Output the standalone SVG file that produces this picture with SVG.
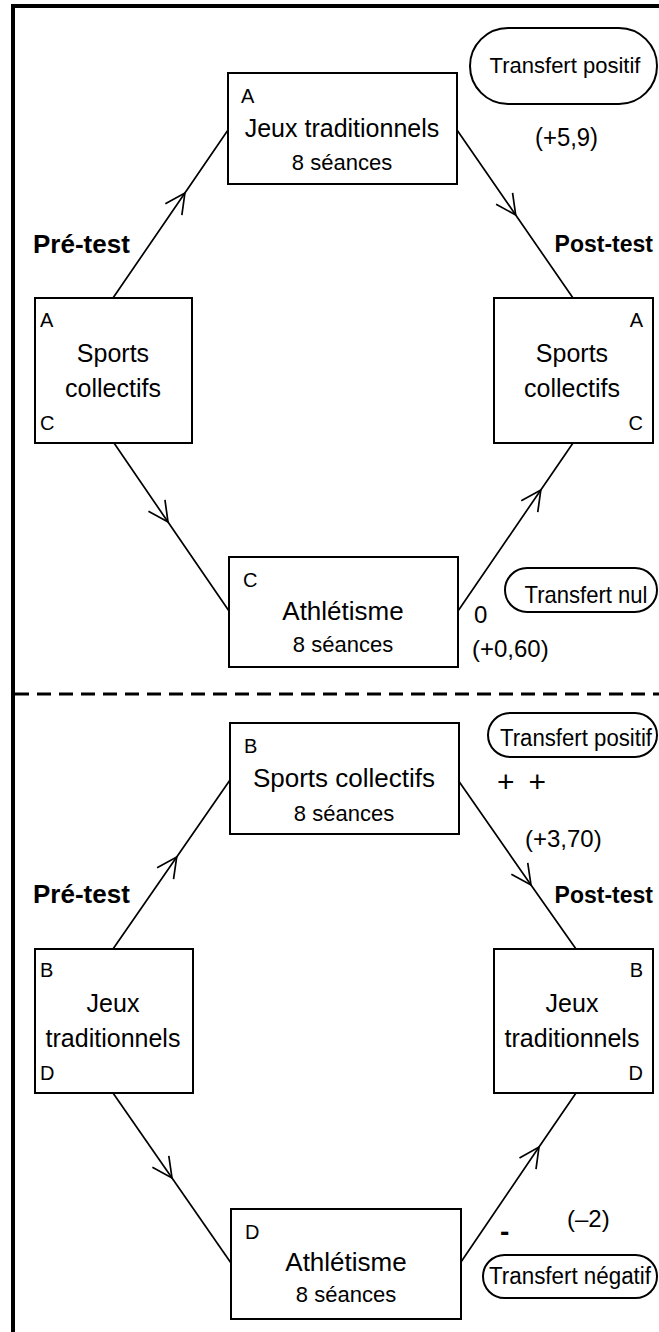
<svg xmlns="http://www.w3.org/2000/svg" width="659" height="1332" viewBox="0 0 659 1332">
<style>
text{font-family:"Liberation Sans",Arial,Helvetica,sans-serif;fill:#000}
.box{fill:#fff;stroke:#000;stroke-width:2}
.loz{fill:#fff;stroke:#000;stroke-width:2}
.lbl{font-size:20px}
.main{font-size:25px;text-anchor:middle}
.sub{font-size:22px;text-anchor:middle}
.lz{text-anchor:middle}
.bold{font-weight:bold}
.val{font-size:24px}
.con{fill:none;stroke:#000;stroke-width:1.7;marker-mid:url(#arr)}
</style>
<defs>
<marker id="arr" markerUnits="userSpaceOnUse" markerWidth="30" markerHeight="30" viewBox="-25 -15 30 30" refX="0" refY="0" orient="auto" overflow="visible">
<path d="M-20,-10 L0,0 L-20,10" fill="none" stroke="#000" stroke-width="1.7"/>
</marker>
</defs>
<rect width="659" height="1332" fill="#fff"/>
<g id="frame">
<line x1="11" y1="6" x2="659" y2="6" stroke="#000" stroke-width="4"/>
<line x1="13" y1="4" x2="13" y2="1332" stroke="#000" stroke-width="4"/>
<line x1="15" y1="694" x2="659" y2="694" stroke="#000" stroke-width="3" stroke-dasharray="14 8"/>
</g>
<g id="connectors">
<path class="con" d="M113,298 L184.9,193 L228,130"/>
<path class="con" d="M457,130 L515.7,215 L573,298"/>
<path class="con" d="M114,443 L168,522 L229,611"/>
<path class="con" d="M458,611 L540.8,490 L573,443"/>
<path class="con" d="M113,949 L176.7,857 L230,780"/>
<path class="con" d="M458,780 L531,885 L576,949"/>
<path class="con" d="M113,1093 L172,1178 L231,1263"/>
<path class="con" d="M461,1262 L539,1147 L576,1093"/>
</g>
<g id="top-jeux">
<rect class="box" x="228" y="73" width="229" height="111"/>
<text class="lbl" x="241" y="103">A</text>
<text class="main" x="342" y="137">Jeux traditionnels</text>
<text class="sub" x="342" y="170">8 séances</text>
</g>
<g id="top-transfert-positif">
<rect class="loz" x="470" y="28" width="187" height="76" rx="38" ry="38"/>
<text class="lz" x="565" y="73" style="font-size:22px">Transfert positif</text>
</g>
<text id="val-59" x="535" y="146" style="font-size:26px" textLength="63" lengthAdjust="spacingAndGlyphs">(+5,9)</text>
<text id="pre-test-1" class="bold" x="33" y="253" style="font-size:26px">Pré-test</text>
<text id="post-test-1" class="bold" x="653" y="252" style="font-size:23px;text-anchor:end">Post-test</text>
<g id="top-left-sports">
<rect class="box" x="35" y="298" width="157" height="145"/>
<text class="lbl" x="40" y="327">A</text>
<text class="main" x="113" y="362">Sports</text>
<text class="main" x="113" y="397">collectifs</text>
<text class="lbl" x="40" y="430">C</text>
</g>
<g id="top-right-sports">
<rect class="box" x="494" y="298" width="159" height="145"/>
<text class="lbl" x="643" y="327" text-anchor="end">A</text>
<text class="main" x="572" y="362">Sports</text>
<text class="main" x="572" y="397">collectifs</text>
<text class="lbl" x="643" y="430" text-anchor="end">C</text>
</g>
<g id="top-athletisme">
<rect class="box" x="229" y="557" width="229" height="110"/>
<text class="lbl" x="243" y="587">C</text>
<text class="main" x="343" y="620" style="font-size:26px">Athlétisme</text>
<text class="sub" x="343" y="652">8 séances</text>
</g>
<text id="zero" class="val" x="474" y="623">0</text>
<text id="val-060" class="val" x="472" y="657">(+0,60)</text>
<g id="transfert-nul">
<rect class="loz" x="505" y="568" width="152" height="44" rx="22" ry="22"/>
<text class="lz" x="586" y="603" style="font-size:24px" textLength="123" lengthAdjust="spacingAndGlyphs">Transfert nul</text>
</g>
<g id="bot-sports">
<rect class="box" x="230" y="723" width="229" height="111"/>
<text class="lbl" x="244" y="753">B</text>
<text class="main" x="344" y="787" style="font-size:26px">Sports collectifs</text>
<text class="sub" x="344" y="821">8 séances</text>
</g>
<g id="bot-transfert-positif">
<rect class="loz" x="488" y="713" width="169" height="44" rx="22" ry="22"/>
<text class="lz" x="576" y="746" style="font-size:23px" textLength="152" lengthAdjust="spacingAndGlyphs">Transfert positif</text>
</g>
<text id="plusplus" x="497" y="792" style="font-size:30px" textLength="49" lengthAdjust="spacing">+ +</text>
<text id="val-370" class="val" x="525" y="847">(+3,70)</text>
<text id="pre-test-2" class="bold" x="33" y="903" style="font-size:26px">Pré-test</text>
<text id="post-test-2" class="bold" x="653" y="903" style="font-size:23px;text-anchor:end">Post-test</text>
<g id="bot-left-jeux">
<rect class="box" x="35" y="949" width="158" height="144"/>
<text class="lbl" x="40" y="977">B</text>
<text class="main" x="113" y="1012">Jeux</text>
<text class="main" x="113" y="1047">traditionnels</text>
<text class="lbl" x="40" y="1080">D</text>
</g>
<g id="bot-right-jeux">
<rect class="box" x="494" y="949" width="159" height="144"/>
<text class="lbl" x="643" y="977" text-anchor="end">B</text>
<text class="main" x="572" y="1012">Jeux</text>
<text class="main" x="572" y="1047">traditionnels</text>
<text class="lbl" x="643" y="1080" text-anchor="end">D</text>
</g>
<g id="bot-athletisme">
<rect class="box" x="231" y="1209" width="230" height="110"/>
<text class="lbl" x="245" y="1239">D</text>
<text class="main" x="346" y="1271" style="font-size:26px">Athlétisme</text>
<text class="sub" x="346" y="1302">8 séances</text>
</g>
<text id="minus" x="500" y="1241" style="font-size:28px;font-weight:bold">-</text>
<text id="val-m2" class="val" x="567" y="1227">(–2)</text>
<g id="transfert-negatif">
<rect class="loz" x="483" y="1255" width="174" height="43" rx="21.5" ry="21.5"/>
<text class="lz" x="570" y="1284" style="font-size:23px" textLength="162" lengthAdjust="spacingAndGlyphs">Transfert négatif</text>
</g>
</svg>
